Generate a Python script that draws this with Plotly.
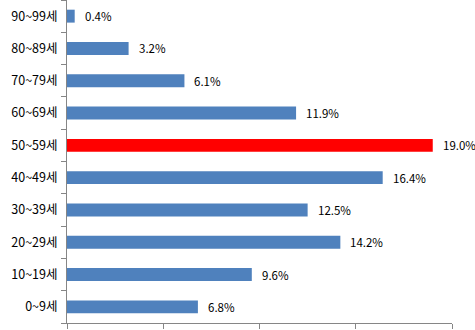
import plotly.graph_objects as go

# Age groups, listed bottom to top
age_groups = ["0~9세", "10~19세", "20~29세", "30~39세", "40~49세",
              "50~59세", "60~69세", "70~79세", "80~89세", "90~99세"]
shares = [6.8, 9.6, 14.2, 12.5, 16.4, 19.0, 11.9, 6.1, 3.2, 0.4]
highlight = "50~59세"

base_color = "#4F81BD"
hi_color = "#FF0000"
colors = [hi_color if g == highlight else base_color for g in age_groups]

fig = go.Figure()
fig.add_trace(go.Bar(
    x=shares,
    y=age_groups,
    orientation="h",
    marker=dict(color=colors, line=dict(width=0)),
    hoverinfo="skip",
))

# Value labels to the right of each bar
for g, v in zip(age_groups, shares):
    fig.add_annotation(
        x=v, y=g, text=f"{v:.1f}%",
        xanchor="left", yanchor="middle",
        xshift=8, showarrow=False,
        font=dict(family="Noto Sans CJK KR, Noto Sans, sans-serif", size=11.5, color="#000000"),
    )

axis_gray = "#868686"
fig.update_layout(
    width=475, height=330,
    margin=dict(l=67, r=23, t=0, b=7),
    paper_bgcolor="white",
    plot_bgcolor="white",
    bargap=0.6,
    showlegend=False,
    xaxis=dict(
        range=[0, 20],
        dtick=5,
        showgrid=False,
        zeroline=False,
        showline=True,
        linecolor=axis_gray,
        linewidth=1,
        ticks="outside",
        ticklen=5,
        tickcolor=axis_gray,
        showticklabels=False,
        fixedrange=True,
    ),
    yaxis=dict(
        type="category",
        categoryorder="array",
        categoryarray=age_groups,
        showgrid=False,
        zeroline=False,
        showline=True,
        linecolor=axis_gray,
        linewidth=1,
        ticks="outside",
        tickson="boundaries",
        ticklen=5,
        tickcolor=axis_gray,
        tickfont=dict(family="Noto Sans CJK KR, Noto Sans, sans-serif", size=12.5, color="#000000"),
        ticklabelstandoff=6,
        fixedrange=True,
    ),
)

fig.write_html("out.html")
